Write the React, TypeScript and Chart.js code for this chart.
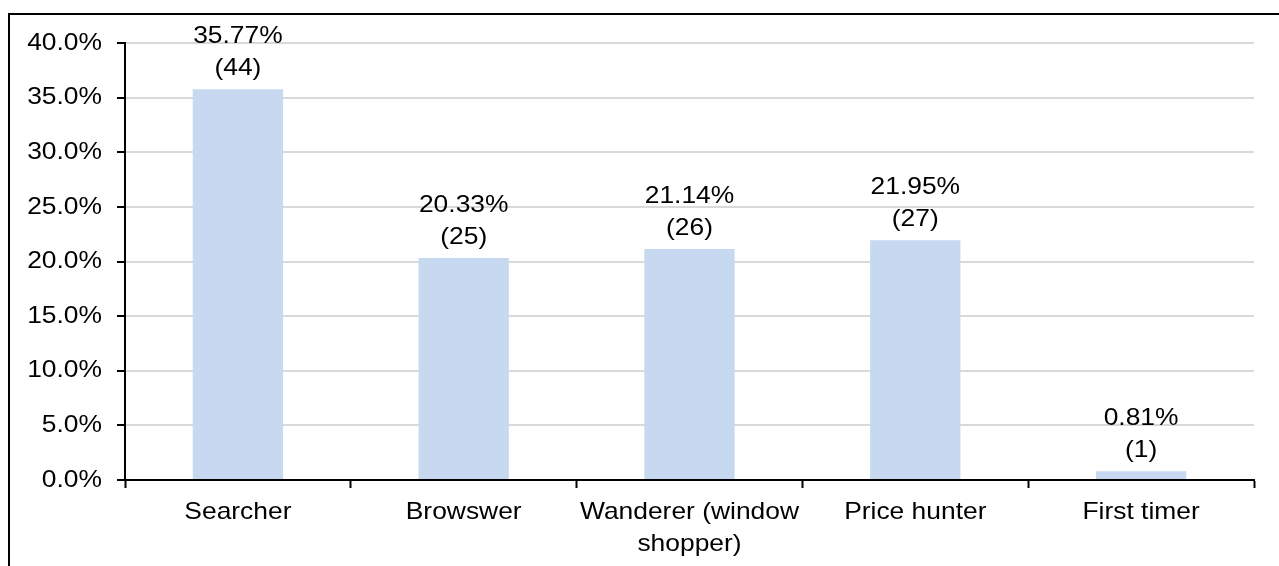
import React, { useEffect, useRef } from "react";
import { Chart, registerables } from "chart.js";

Chart.register(...registerables);

const categories: (string | string[])[] = [
  "Searcher",
  "Browswer",
  ["Wanderer (window", "shopper)"],
  "Price hunter",
  "First timer",
];
const shares: number[] = [35.77, 20.33, 21.14, 21.95, 0.81];
const counts: number[] = [44, 25, 26, 27, 1];
const yMax = 40;
const yStep = 5;

const FONT = "'Liberation Sans', Arial, sans-serif";
const FONT_SIZE = 24;
// Glyphs are drawn slightly wide, as in the exported office chart
const TEXT_WIDEN = 1.1;

// Two-line value labels above each bar: share and respondent count
const valueLabels = {
  id: "valueLabels",
  afterDatasetsDraw(chart: Chart) {
    const ctx = chart.ctx;
    const meta = chart.getDatasetMeta(0);
    ctx.save();
    ctx.fillStyle = "#000";
    ctx.font = `${FONT_SIZE}px ${FONT}`;
    ctx.textAlign = "center";
    ctx.textBaseline = "alphabetic";
    meta.data.forEach((bar: any, i: number) => {
      const x = bar.x;
      const top = bar.y;
      ctx.fillText(`(${counts[i]})`, x, top - 14);
      ctx.fillText(`${shares[i].toFixed(2)}%`, x, top - 46);
    });
    ctx.restore();
  },
};

function widenText(ctx: CanvasRenderingContext2D) {
  const base = ctx.fillText.bind(ctx);
  (ctx as any).fillText = (text: string, x: number, y: number, maxWidth?: number) => {
    ctx.save();
    ctx.translate(x, y);
    ctx.scale(TEXT_WIDEN, 1);
    if (maxWidth === undefined) base(text, 0, 0);
    else base(text, 0, 0, maxWidth / TEXT_WIDEN);
    ctx.restore();
  };
}

export default function App() {
  const canvasRef = useRef<HTMLCanvasElement | null>(null);

  useEffect(() => {
    const canvas = canvasRef.current;
    if (!canvas) return;
    const ctx = canvas.getContext("2d");
    if (ctx) widenText(ctx);
    const chart = new Chart(canvas, {
      type: "bar",
      data: {
        labels: categories,
        datasets: [
          {
            data: shares,
            backgroundColor: "#c6d9f1",
            borderWidth: 0,
            barPercentage: 0.4,
            categoryPercentage: 1,
          },
        ],
      },
      options: {
        responsive: false,
        animation: false,
        layout: { padding: { top: 43, right: 25, left: 0, bottom: 0 } },
        plugins: {
          legend: { display: false },
          tooltip: { enabled: false },
        },
        scales: {
          x: {
            z: 1,
            grid: {
              offset: true,
              drawOnChartArea: false,
              drawTicks: true,
              tickLength: 8,
              tickColor: "#000",
              tickWidth: 2,
            },
            border: { display: true, color: "#000", width: 2 },
            ticks: {
              color: "#000",
              padding: 8,
              maxRotation: 0,
              autoSkip: false,
              font: { family: FONT, size: FONT_SIZE, lineHeight: 1.33 },
            },
            afterFit(scale: any) {
              scale.height = 86;
            },
          },
          y: {
            min: 0,
            max: yMax,
            grid: {
              color: "#d9d9d9",
              lineWidth: 2,
              drawTicks: true,
              tickLength: 8,
              tickColor: "#000",
              tickWidth: 2,
            },
            border: { display: true, color: "#000", width: 2 },
            ticks: {
              stepSize: yStep,
              color: "#000",
              padding: 15,
              font: { family: FONT, size: FONT_SIZE },
              callback: (v: any) => `${Number(v).toFixed(1)}%`,
            },
            afterFit(scale: any) {
              scale.width = 125;
            },
          },
        },
      },
      plugins: [valueLabels],
    });
    return () => chart.destroy();
  }, []);

  return (
    <div
      style={{
        position: "fixed",
        left: 0,
        top: 0,
        width: 1279,
        height: 566,
        overflow: "hidden",
        background: "#fff",
      }}
    >
      <div
        style={{
          position: "absolute",
          left: 8,
          top: 13,
          width: 1300,
          height: 600,
          border: "2px solid #000",
        }}
      />
      <canvas
        ref={canvasRef}
        width={1279}
        height={566}
        style={{ position: "absolute", left: 0, top: 0, display: "block" }}
      />
    </div>
  );
}
